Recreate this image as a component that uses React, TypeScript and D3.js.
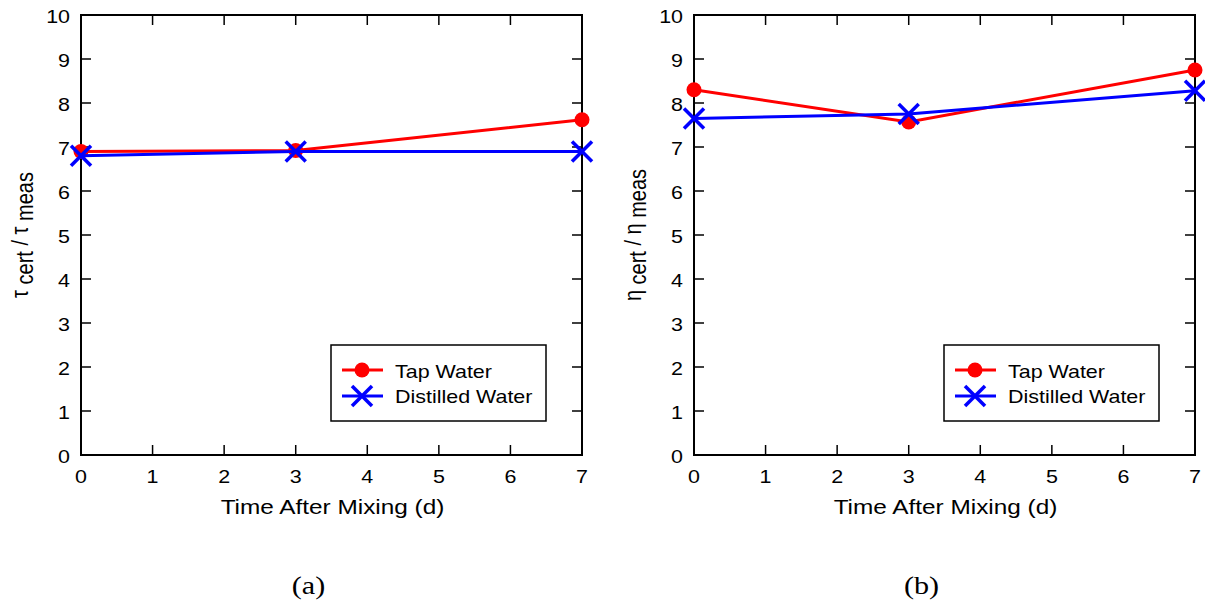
import React from "react";
import * as d3 from "d3";

const days = [0, 3, 7];
const tauTap = [6.9, 6.92, 7.62];
const tauDist = [6.8, 6.9, 6.9];
const etaTap = [8.3, 7.57, 8.75];
const etaDist = [7.65, 7.75, 8.28];
const xTicks = [0, 1, 2, 3, 4, 5, 6, 7];
const yTicks = [0, 1, 2, 3, 4, 5, 6, 7, 8, 9, 10];
const seriesNames = ["Tap Water", "Distilled Water"];

const FONT = "'Liberation Sans', Arial, sans-serif";
const SX = 1.16;

function T({ x, y, size, anchor, children, family }: any) {
  return (
    <text
      transform={`translate(${x},${y}) scale(${SX},1)`}
      fontSize={size}
      textAnchor={anchor || "start"}
      fontFamily={family || FONT}
    >
      {children}
    </text>
  );
}

function Cross({ x, y, s, color }: { x: number; y: number; s: number; color: string }) {
  return (
    <g stroke={color} strokeWidth={3.5}>
      <line x1={x - s} y1={y - s} x2={x + s} y2={y + s} />
      <line x1={x - s} y1={y + s} x2={x + s} y2={y - s} />
    </g>
  );
}

function Panel({ left, sym, tap, dist, tag }: { left: number; sym: string; tap: number[]; dist: number[]; tag: string }) {
  const top = 15, bottom = 455, right = left + 501;
  const x = d3.scaleLinear().domain([0, 7]).range([left, right]);
  const y = d3.scaleLinear().domain([0, 10]).range([bottom, top]);
  const line = d3.line<number>().x((_, i) => x(days[i])).y((d) => y(d));
  const tl = 10;
  const lx = left + 250, ly = 345;
  return (
    <g fontFamily={FONT}>
      {xTicks.map((t) => (
        <g key={"x" + t}>
          <line x1={x(t)} x2={x(t)} y1={bottom} y2={bottom - tl} stroke="#000" strokeWidth={1.5} />
          <line x1={x(t)} x2={x(t)} y1={top} y2={top + tl} stroke="#000" strokeWidth={1.5} />
          <T x={x(t)} y={bottom + 28} size={18.5} anchor="middle">{t}</T>
        </g>
      ))}
      {yTicks.map((t) => (
        <g key={"y" + t}>
          <line x1={left} x2={left + tl} y1={y(t)} y2={y(t)} stroke="#000" strokeWidth={1.5} />
          <line x1={right} x2={right - tl} y1={y(t)} y2={y(t)} stroke="#000" strokeWidth={1.5} />
          <T x={left - 11} y={y(t) + 8} size={18.5} anchor="end">{t}</T>
        </g>
      ))}
      <rect x={left} y={top} width={right - left} height={bottom - top} fill="none" stroke="#000" strokeWidth={2} />
      <path d={line(tap) || ""} fill="none" stroke="#ff0000" strokeWidth={3} />
      {tap.map((v, i) => (
        <circle key={"t" + i} cx={x(days[i])} cy={y(v)} r={7.5} fill="#ff0000" />
      ))}
      <path d={line(dist) || ""} fill="none" stroke="#0000ff" strokeWidth={3} />
      {dist.map((v, i) => (
        <Cross key={"d" + i} x={x(days[i])} y={y(v)} s={10} color="#0000ff" />
      ))}
      <T x={(left + right) / 2 + 1} y={514} size={21} anchor="middle">Time After Mixing (d)</T>
      <text transform={`translate(${left - 53},${(top + bottom) / 2}) rotate(-90) scale(1,${SX})`} fontSize={20} textAnchor="middle">
        {sym}<tspan dy={4}> cert</tspan><tspan dy={-4}> / {sym}</tspan><tspan dy={4}> meas</tspan>
      </text>
      <rect x={lx} y={ly} width={215} height={76} fill="#fff" stroke="#000" strokeWidth={1.5} />
      <line x1={lx + 11} x2={lx + 52} y1={ly + 25} y2={ly + 25} stroke="#ff0000" strokeWidth={3} />
      <circle cx={lx + 31} cy={ly + 25} r={7.5} fill="#ff0000" />
      <T x={lx + 64} y={ly + 33} size={18.5}>{seriesNames[0]}</T>
      <line x1={lx + 11} x2={lx + 52} y1={ly + 51} y2={ly + 51} stroke="#0000ff" strokeWidth={3} />
      <Cross x={lx + 31} y={ly + 51} s={10} color="#0000ff" />
      <T x={lx + 64} y={ly + 58} size={18.5}>{seriesNames[1]}</T>
      <T x={(left + right) / 2 - 23} y={594} size={26} anchor="middle" family="'Liberation Serif', 'Times New Roman', serif">{tag}</T>
    </g>
  );
}

export default function App() {
  return (
    <svg width={1205} height={606} style={{ position: "absolute", left: 0, top: 0, background: "#fff" }}>
      <rect width={1205} height={606} fill="#fff" />
      <Panel left={81} sym="τ" tap={tauTap} dist={tauDist} tag="(a)" />
      <Panel left={694} sym="η" tap={etaTap} dist={etaDist} tag="(b)" />
    </svg>
  );
}
